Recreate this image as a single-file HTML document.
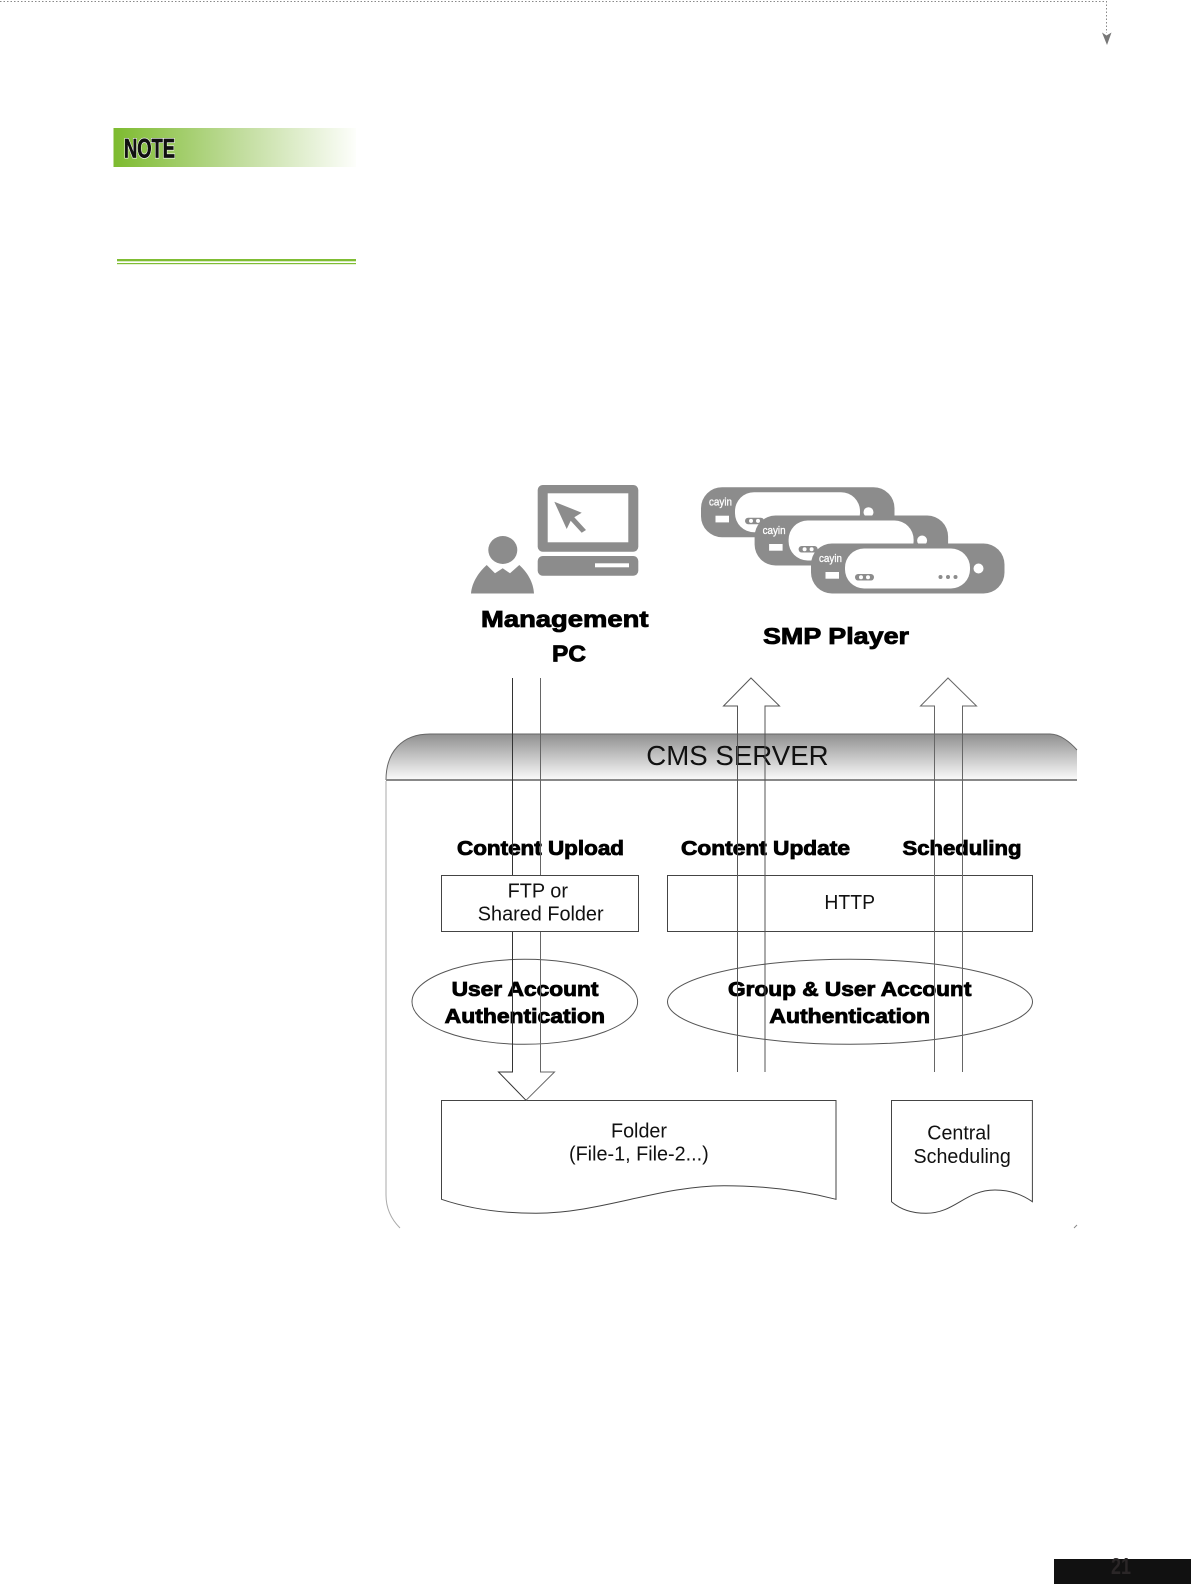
<!DOCTYPE html>
<html><head><meta charset="utf-8"><style>
html,body{margin:0;padding:0;background:#fff;width:1191px;height:1584px;overflow:hidden}
svg{display:block}
text{font-family:"Liberation Sans",sans-serif}
.b{font-weight:bold;fill:#000;stroke:#000;stroke-width:.85}
.r{fill:#111}
</style></head><body>
<svg xmlns="http://www.w3.org/2000/svg" width="1191" height="1584" viewBox="0 0 1191 1584">
<defs>
<linearGradient id="ng" x1="0" x2="1" y1="0" y2="0"><stop offset="0" stop-color="#7dbb2f"/><stop offset=".5" stop-color="#bedb98"/><stop offset="1" stop-color="#fdfefb"/></linearGradient>
<linearGradient id="hg" x1="0" x2="0" y1="0" y2="1"><stop offset="0" stop-color="#909090"/><stop offset="1" stop-color="#fbfbfb"/></linearGradient>
<g id="pl">
<rect x="811" y="543.500" width="193.500" height="50" rx="21" fill="#8c8c8c"/>
<rect x="845" y="548.500" width="125" height="40" rx="19" fill="#fff"/>
<rect x="825.500" y="572" width="13.500" height="6.700" fill="#fff"/>
<circle cx="978.500" cy="568.500" r="5" fill="#fff"/>
<rect x="855" y="574" width="19" height="6.500" rx="3.200" fill="#8c8c8c"/>
<circle cx="861" cy="577.200" r="2" fill="#fff"/><circle cx="868" cy="577.200" r="2" fill="#fff"/>
<circle cx="940.500" cy="577" r="2" fill="#8c8c8c"/><circle cx="948" cy="577" r="2" fill="#8c8c8c"/><circle cx="955.500" cy="577" r="2" fill="#8c8c8c"/>
<text x="819" y="562" font-size="11" fill="#fff" stroke="#fff" stroke-width=".3" textLength="23" lengthAdjust="spacingAndGlyphs">cayin</text>
</g>
</defs>

<!-- top dotted connector -->
<path d="M0 1.500H1106.500V33" fill="none" stroke="#888" stroke-width="1" stroke-dasharray="1.500 2"/>
<polygon points="1102,32.500 1106.500,35.500 1111.500,32.500 1107,45" fill="#777"/>

<!-- note -->
<rect x="113.500" y="128" width="242.500" height="39" fill="url(#ng)"/>
<text x="124" y="157.500" font-size="26.500" font-weight="bold" fill="#fff" stroke="#fff" stroke-width="2" textLength="51" lengthAdjust="spacingAndGlyphs">NOTE</text>
<text x="124" y="157.500" font-size="26.500" font-weight="bold" fill="#111" stroke="#111" stroke-width=".7" textLength="51" lengthAdjust="spacingAndGlyphs">NOTE</text>
<rect x="117" y="259" width="239" height="2.300" fill="#7fbd33"/>
<rect x="117" y="263" width="239" height="1.200" fill="#7fbd33"/>

<!-- Management PC icon -->
<rect x="537.700" y="485" width="100.600" height="66.700" rx="5" fill="#8c8c8c"/>
<rect x="547.700" y="493.300" width="80.600" height="49" fill="#fff"/>
<polygon points="554.300,501.700 581.700,512.700 574.300,517.300 586,530 581.700,532.700 570.700,520.700 566.700,529" fill="#8c8c8c"/>
<rect x="537.700" y="556" width="100.600" height="19.700" rx="5" fill="#8c8c8c"/>
<rect x="595" y="563.300" width="34" height="4" fill="#fff"/>
<ellipse cx="502.800" cy="550" rx="14.500" ry="14" fill="#8c8c8c"/>
<path d="M471 593.500C472 582 479 572 486.700 565L495 573.300 502.700 568.300 510 573.300 519.300 565C527 572 533.500 582 534 593.500Z" fill="#8c8c8c"/>

<!-- SMP players -->
<use href="#pl" transform="translate(-110,-56.300)"/>
<use href="#pl" transform="translate(-56.400,-28)"/>
<use href="#pl"/>

<text class="b" x="481" y="627" font-size="23.500" textLength="167.500" lengthAdjust="spacingAndGlyphs">Management</text>
<text class="b" x="552" y="661.500" font-size="23.500" textLength="34" lengthAdjust="spacingAndGlyphs">PC</text>
<text class="b" x="763" y="644" font-size="23.500" textLength="146" lengthAdjust="spacingAndGlyphs">SMP Player</text>

<!-- CMS server container -->
<path d="M386 780C386 752 402 734 430 734H1050C1060 734 1070 742 1077 750V780Z" fill="url(#hg)"/>
<path d="M386 780C386 752 402 734 430 734H1050C1060 734 1070 742 1077 750" fill="none" stroke="#666" stroke-width="1"/>
<path d="M386 780H1077" fill="none" stroke="#888" stroke-width="2"/>
<path d="M386 781V1195C386 1210 392 1220 400 1228" fill="none" stroke="#aaa" stroke-width="1"/>
<path d="M1074 1228L1077 1225" fill="none" stroke="#888" stroke-width="1"/>
<text class="r" x="646.300" y="765" font-size="28" textLength="182.300" lengthAdjust="spacingAndGlyphs">CMS SERVER</text>

<!-- section labels -->
<text class="b" x="457" y="855" font-size="20.500" textLength="167" lengthAdjust="spacingAndGlyphs">Content Upload</text>
<text class="b" x="681" y="855" font-size="20.500" textLength="169" lengthAdjust="spacingAndGlyphs">Content Update</text>
<text class="b" x="902.500" y="855" font-size="20.500" textLength="119" lengthAdjust="spacingAndGlyphs">Scheduling</text>

<!-- HTTP box -->
<rect x="667.500" y="875.500" width="365" height="56" fill="#fff" stroke="#444"/>
<text class="r" x="824.400" y="909" font-size="20" textLength="50.600" lengthAdjust="spacingAndGlyphs">HTTP</text>

<!-- ellipses -->
<ellipse cx="524.800" cy="1001.800" rx="112.800" ry="42.500" fill="#fff" stroke="#555"/>
<ellipse cx="850" cy="1001.800" rx="182.500" ry="42.500" fill="#fff" stroke="#555"/>
<text class="b" x="451.600" y="996" font-size="20.500" textLength="146.900" lengthAdjust="spacingAndGlyphs">User Account</text>
<text class="b" x="444.700" y="1023" font-size="20.500" textLength="160.300" lengthAdjust="spacingAndGlyphs">Authentication</text>
<text class="b" x="728" y="996" font-size="20.500" textLength="243.400" lengthAdjust="spacingAndGlyphs">Group &amp; User Account</text>
<text class="b" x="769.400" y="1023" font-size="20.500" textLength="160.600" lengthAdjust="spacingAndGlyphs">Authentication</text>

<!-- documents -->
<path d="M441.500 1199.300V1100.500H836V1199.300C800 1190 760 1185.700 724 1185.700C660 1185.700 600 1213.300 536 1213.300C500 1213.300 470 1209 441.500 1199.300Z" fill="#fff" stroke="#444"/>
<path d="M891.500 1201.700V1100.500H1032.400V1201.700C1020 1193 1008 1190 995 1190C965 1190 955 1213.300 926 1213.300C912 1213.300 900 1209 891.500 1201.700Z" fill="#fff" stroke="#444"/>
<text class="r" x="611" y="1137.300" font-size="20" textLength="56" lengthAdjust="spacingAndGlyphs">Folder</text>
<text class="r" x="569" y="1160.700" font-size="20" textLength="139.700" lengthAdjust="spacingAndGlyphs">(File-1, File-2...)</text>
<text class="r" x="927.300" y="1139.300" font-size="20" textLength="63.300" lengthAdjust="spacingAndGlyphs">Central</text>
<text class="r" x="913.500" y="1163" font-size="20" textLength="97.300" lengthAdjust="spacingAndGlyphs">Scheduling</text>

<!-- block arrows -->
<path d="M512.500 678V1072H498.500L526 1100.300" fill="none" stroke="#333" stroke-width="1"/>
<path d="M526 1100.300L554.500 1072H540.500V678" fill="none" stroke="#666" stroke-width="1"/>
<path d="M737.500 1072V706H723.500L751 678 779.500 706H765V1072" fill="none" stroke="#555" stroke-width="1"/>
<path d="M934.500 1072V706H920.500L948 678 976.500 706H962.500V1072" fill="none" stroke="#666" stroke-width="1"/>

<!-- FTP box sits above the upload arrow -->
<rect x="441.500" y="875.500" width="197" height="56" fill="#fff" stroke="#444"/>
<text class="r" x="507.600" y="897.300" font-size="20" textLength="60.400" lengthAdjust="spacingAndGlyphs">FTP or</text>
<text class="r" x="477.800" y="920.700" font-size="20" textLength="125.800" lengthAdjust="spacingAndGlyphs">Shared Folder</text>

<!-- page number -->
<rect x="1054" y="1559" width="137" height="25" fill="#111"/>
<text x="1111" y="1574" font-size="23" font-weight="bold" fill="#2a2627" textLength="20" lengthAdjust="spacingAndGlyphs">21</text>
</svg>
</body></html>
